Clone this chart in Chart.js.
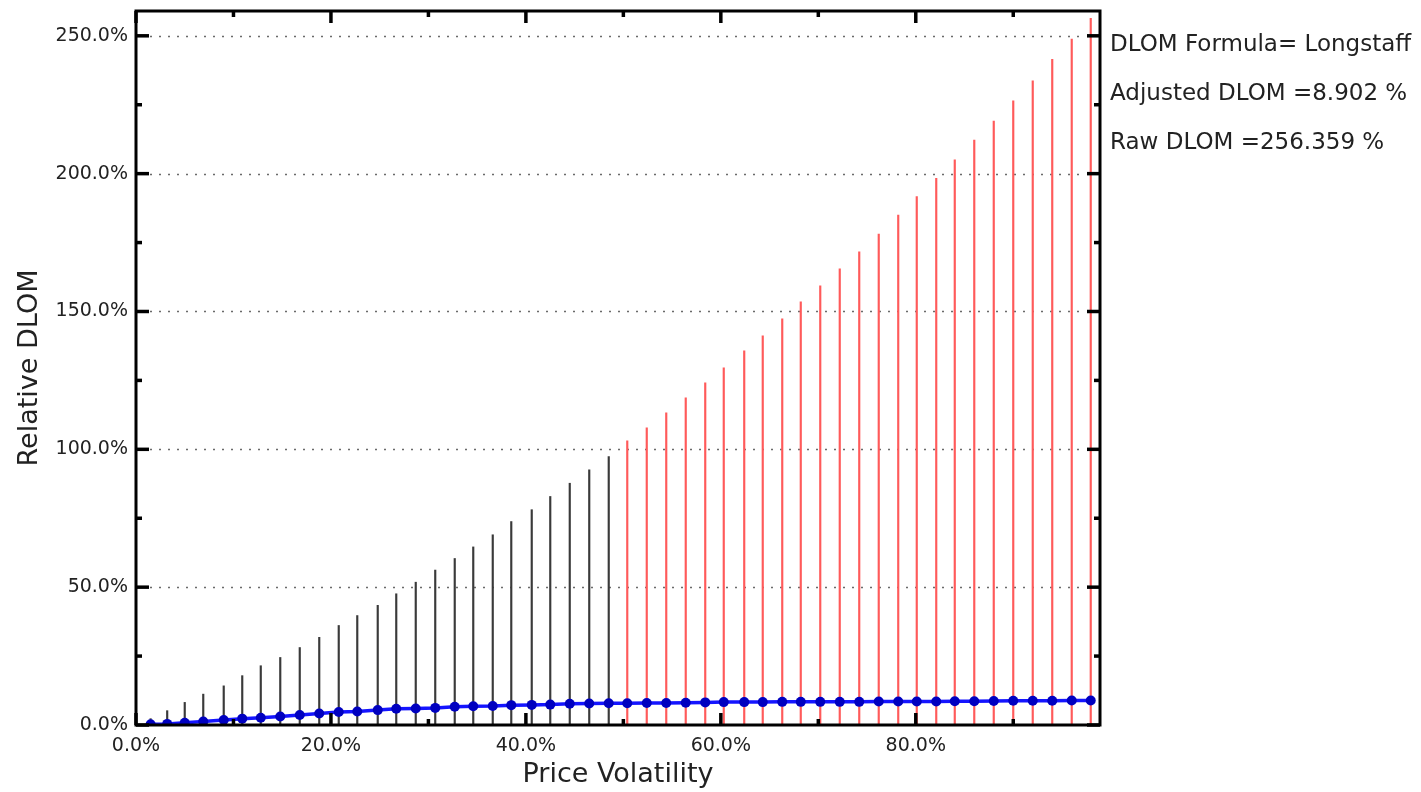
<!DOCTYPE html>
<html>
<head>
<meta charset="utf-8">
<title>Relative DLOM</title>
<script src="https://cdn.jsdelivr.net/npm/chart.js@4.4.1/dist/chart.umd.min.js"></script>
<style>
body{margin:0;background:#fff;}
#c{display:block;}
</style>
</head>
<body>
<canvas id="c" width="1421" height="792"></canvas>
<script>
// price volatility (%) for each line
const vol=[1.5,3.2,5.0,6.9,9.0,10.9,12.8,14.8,16.8,18.8,20.8,22.7,24.8,26.7,28.7,30.7,32.7,34.6,36.6,38.5,40.6,42.5,44.5,46.5,48.5,
	50.4,52.4,54.4,56.4,58.4,60.3,62.4,64.3,66.3,68.2,70.2,72.2,74.2,76.2,78.2,80.1,82.1,84.0,86.0,88.0,90.0,92.0,94.0,96.0,97.95];
// raw DLOM (%) - the vertical lines
const rawDlom=[2.3,5.2,8.2,11.2,14.2,17.9,21.5,24.5,28.1,31.8,36.1,39.7,43.4,47.6,51.8,56.2,60.4,64.6,69.0,73.8,78.1,82.9,87.7,92.6,97.4,
	103.1,107.8,113.2,118.7,124.1,129.6,135.7,141.2,147.3,153.5,159.3,165.5,171.6,178.1,185.0,191.7,198.3,205.0,212.2,219.1,226.4,233.7,241.5,248.8,256.359];
// adjusted DLOM (%) - blue line
const adjDlom=[0.3,0.4,0.8,1.3,1.8,2.3,2.6,3.1,3.6,4.2,4.7,4.9,5.4,5.9,6.0,6.2,6.6,6.8,6.9,7.2,7.3,7.4,7.7,7.8,7.9,
	7.9,8.0,8.0,8.1,8.2,8.3,8.3,8.3,8.4,8.4,8.4,8.4,8.4,8.5,8.5,8.5,8.5,8.6,8.6,8.7,8.8,8.8,8.8,8.9,8.902];

const xMajor=[0,20,40,60,80];
const xMinor=[10,30,50,70,90];
const yMajor=[0,50,100,150,200,250];
const yMinor=[25,75,125,175,225];
const notes=['DLOM Formula= Longstaff','Adjusted DLOM =8.902 %','Raw DLOM =256.359 %'];

const FONT='"DejaVu Sans", sans-serif';

let lineColors=vol.map(function(v){ return v<50 ? '#3a3a3a' : '#ff5a5a'; });

// gridlines, frame, inward ticks and the text on the right
const framePlugin={
	id:'frame',
	beforeDatasetsDraw(chart){
		const ctx=chart.ctx, a=chart.chartArea, y=chart.scales.y;
		ctx.save();
		ctx.strokeStyle='#6a6a6a';
		ctx.lineWidth=1.5;
		ctx.setLineDash([2,7]);
		yMajor.forEach(function(v){
			if(v==0) return;
			let py=Math.round(y.getPixelForValue(v))+0.5;
			ctx.beginPath();
			ctx.moveTo(a.left+14,py);
			ctx.lineTo(a.right-14,py);
			ctx.stroke();
		});
		ctx.restore();
	},
	afterDatasetsDraw(chart){
		const ctx=chart.ctx, a=chart.chartArea, x=chart.scales.x, y=chart.scales.y;
		ctx.save();
		ctx.strokeStyle='#000';
		ctx.lineWidth=3;
		ctx.strokeRect(a.left,a.top,a.right-a.left,a.bottom-a.top);
		function tx(list,len){
			list.forEach(function(v){
				let px=x.getPixelForValue(v);
				if(px>a.right) return;
				ctx.beginPath(); ctx.moveTo(px,a.bottom); ctx.lineTo(px,a.bottom-len); ctx.stroke();
				ctx.beginPath(); ctx.moveTo(px,a.top); ctx.lineTo(px,a.top+len); ctx.stroke();
			});
		}
		function ty(list,len){
			list.forEach(function(v){
				let py=y.getPixelForValue(v);
				ctx.beginPath(); ctx.moveTo(a.left,py); ctx.lineTo(a.left+len,py); ctx.stroke();
				ctx.beginPath(); ctx.moveTo(a.right,py); ctx.lineTo(a.right-len,py); ctx.stroke();
			});
		}
		ctx.lineWidth=3.5;
		tx(xMajor,12); ty(yMajor,13);
		tx(xMinor,6); ty(yMinor,6);
		ctx.restore();
	},
	afterDraw(chart){
		const ctx=chart.ctx;
		ctx.save();
		ctx.font='23px '+FONT;
		ctx.fillStyle='#222';
		ctx.textBaseline='middle';
		ctx.textAlign='left';
		notes.forEach(function(t,i){
			ctx.fillText(t,1110,45+i*49);
		});
		ctx.restore();
	}
};

function zeroPad(s){ s.paddingTop=0; s.paddingBottom=0; s.paddingLeft=0; s.paddingRight=0; }

var ctxC=document.getElementById('c').getContext('2d');
var chart=new Chart(ctxC,{
	type:'bar',
	data:{
		datasets:[{
			type:'line',
			label:'Adjusted DLOM',
			data:vol.map(function(v,i){ return {x:v,y:adjDlom[i]}; }),
			borderColor:'#1414ff',
			borderWidth:3.5,
			pointRadius:5,
			pointBackgroundColor:'#0000c0',
			pointBorderWidth:0,
			tension:0,
			order:0
		},{
			type:'bar',
			label:'Raw DLOM',
			data:vol.map(function(v,i){ return {x:v,y:rawDlom[i]}; }),
			backgroundColor:lineColors,
			barThickness:1.5,
			order:1
		}]
	},
	options:{
		responsive:false,
		devicePixelRatio:1,
		animation:false,
		layout:{padding:{left:0,right:321,top:11,bottom:0}},
		plugins:{legend:{display:false},tooltip:{enabled:false}},
		scales:{
			x:{
				type:'linear',
				min:0,
				max:98.9,
				offset:false,
				grid:{display:false,drawTicks:false},
				border:{display:false},
				afterBuildTicks:function(s){ s.ticks=xMajor.map(function(v){ return {value:v}; }); },
				afterFit:function(s){ s.height=67; zeroPad(s); },
				ticks:{
					autoSkip:false,
					maxRotation:0,
					padding:10,
					color:'#222',
					font:{family:FONT,size:19},
					callback:function(v){ return v.toFixed(1)+'%'; }
				},
				title:{display:true,text:'Price Volatility',color:'#222',font:{family:FONT,size:27},padding:{top:0,bottom:1}}
			},
			y:{
				type:'linear',
				min:0,
				max:259,
				grid:{display:false,drawTicks:false},
				border:{display:false},
				afterBuildTicks:function(s){ s.ticks=yMajor.map(function(v){ return {value:v}; }); },
				afterFit:function(s){ s.width=136; zeroPad(s); },
				ticks:{
					padding:8,
					color:'#222',
					font:{family:FONT,size:19},
					callback:function(v){ return v.toFixed(1)+'%'; }
				},
				title:{display:true,text:'Relative DLOM',color:'#222',font:{family:FONT,size:27},padding:{top:14,bottom:0}}
			}
		}
	},
	plugins:[framePlugin]
});
</script>
</body>
</html>
